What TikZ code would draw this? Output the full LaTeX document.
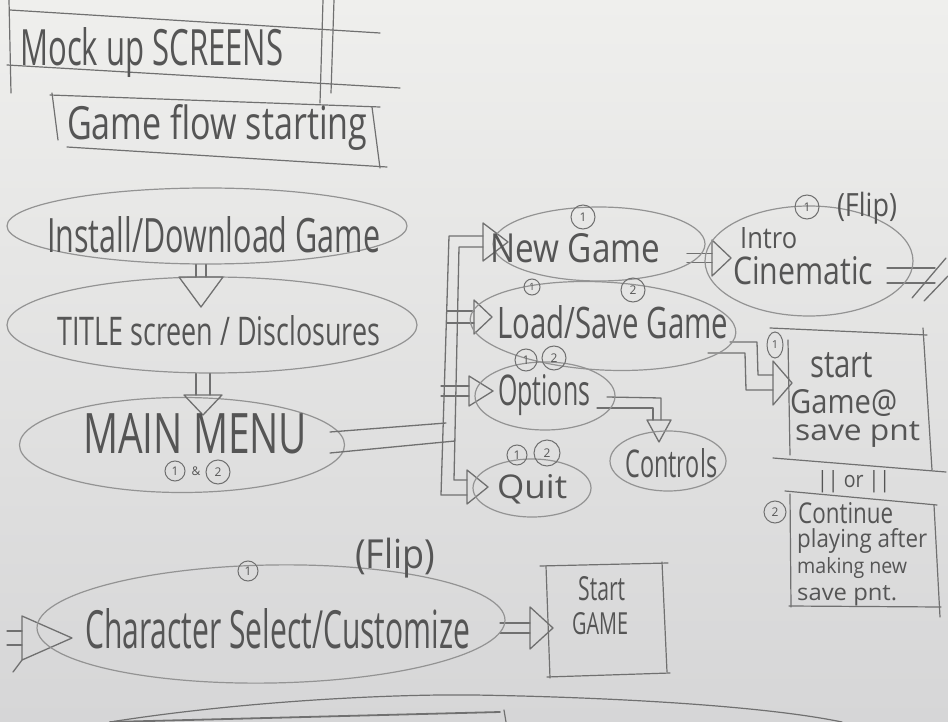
\documentclass[tikz,border=0pt]{standalone}
\usepackage{fontspec}
\setmainfont{Open Sans}
\usepackage{graphicx}
\usetikzlibrary{shapes.geometric,calc}
\definecolor{papertop}{HTML}{EFEFED}
\definecolor{paperbot}{HTML}{D6D6D7}
\definecolor{lead}{HTML}{939393}
\definecolor{ink}{HTML}{707070}
\definecolor{txt}{HTML}{555555}
\newcommand\hw[3]{\resizebox{#1pt}{#2pt}{#3}}
\newcommand\hwc[3]{\resizebox*{#1pt}{#2pt}{#3}}
\newcommand\htri[3]{\draw[rail] let \p1=(#1) in (#1) -- (\x1-#2,\y1+#3) -- (\x1-#2,\y1-#3) -- cycle;}
\newcommand\vtri[3]{\draw[rail] let \p1=(#1) in (#1) -- (\x1-#3,\y1+#2) -- (\x1+#3,\y1+#2) -- cycle;}
\newcommand\harr[5]{\draw[rail] let \p1=(#1), \p2=(#2) in (\x1,\y2+#3) -- (\x2-#4,\y2+#3) (\x1,\y2-#3) -- (\x2-#4,\y2-#3); \htri{#2}{#4}{#5}}
\newcommand\varr[5]{\draw[rail] let \p1=(#1), \p2=(#2) in (\x2-#3,\y1) -- (\x2-#3,\y2+#4) (\x2+#3,\y1) -- (\x2+#3,\y2+#4); \vtri{#2}{#4}{#5}}
\begin{document}
\begin{tikzpicture}[x=1pt,y=-1pt,
  oval/.style={ellipse, draw=lead, line width=1.2pt, inner sep=0pt},
  rail/.style={draw=ink, line width=1.3pt, line cap=round, line join=round},
  sketch/.style={draw=ink, line width=1.2pt, line cap=round},
  lbl/.style={text=txt, inner sep=0pt, anchor=base west},
  clbl/.style={text=txt, inner sep=0pt, anchor=center},
  circ/.style={circle, draw=ink, line width=1pt, inner sep=0pt, text=txt, font=\fontsize{12}{12}\selectfont},
  ghost/.style={rectangle, draw=none, inner sep=0pt}]
\useasboundingbox (0,0) rectangle (948,722);
\fill[top color=papertop, bottom color=paperbot] (0,0) rectangle (948,722);

% ---------- header frames ----------
\draw[sketch] (10,10) -- (380,33);
\draw[sketch] (7,65) -- (400,88);
\draw[sketch] (9,0) -- (11,93);
\draw[sketch] (323,0) -- (320,103);
\draw[sketch] (334,0) -- (331,93);
\node[lbl] (mock) at (20,66) {\hw{263}{38}{Mock up SCREENS}};
\draw[sketch] (50,95) -- (380,107);
\draw[sketch] (52,93) -- (58,140);
\draw[sketch] (372,107) -- (380,168);
\draw[sketch] (67,147) -- (387,167);
\node[lbl] (flow) at (67,140) {\hw{300}{35}{Game flow starting}};

% ---------- connectors (drawn first) ----------
\coordinate (t1) at (201,307);
\coordinate (t2) at (203,415);
\node[oval, minimum width=400, minimum height=76] (inst) at (207,226) {};
\node[oval, minimum width=410, minimum height=96] (title) at (212,325) {};
\node[oval, minimum width=325, minimum height=95] (mm) at (182,445) {};
\varr{inst.south}{t1}{5}{30}{22}
\varr{title.south}{t2}{7}{20}{19}

% main menu to bus
\coordinate (m1) at (330,432); \coordinate (m1e) at (446,423);
\coordinate (m2) at (330,453); \coordinate (m2e) at (455,441);
\draw[rail] (m1) -- (m1e);
\draw[rail] (m2) -- (m2e);
% bus
\coordinate (b1) at (483,236); \coordinate (b2) at (449,236);
\coordinate (b3) at (441,495); \coordinate (b4) at (467,495);
\coordinate (b5) at (483,247); \coordinate (b6) at (459,247);
\coordinate (b7) at (454,480); \coordinate (b8) at (467,480);
\draw[rail] (b1) -- (b2) -- (b3) -- (b4);
\draw[rail] (b5) -- (b6) -- (b7) -- (b8);
\coordinate (tng) at (508,242);
\coordinate (tqu) at (488,487);
\htri{tng}{25}{19}
\htri{tqu}{21}{17}
\coordinate (lsf) at (447,317); \coordinate (tls) at (492,317);
\harr{lsf}{tls}{6}{18}{17}
\coordinate (opf) at (441,391); \coordinate (top) at (493,391);
\harr{opf}{top}{5}{24}{15}

% new game -> intro
\coordinate (ngf) at (687,258); \coordinate (tic) at (731,258);
\harr{ngf}{tic}{4.5}{19}{18}
% intro -> off page
\coordinate (ic1) at (887,268); \coordinate (ic1e) at (935,268);
\coordinate (ic2) at (887,283); \coordinate (ic2e) at (935,283);
\draw[rail] (ic1) -- (ic1e);
\draw[rail] (ic2) -- (ic2e);
\draw[rail] (912,298) -- (946,258);
\draw[rail] (924,301) -- (948,276);

% load/save -> start game at save point
\coordinate (l1) at (730,342); \coordinate (l2) at (708,353);
\coordinate (tsg) at (792,383);
\draw[rail] (l1) -- (757,342) -- (758,375) -- (773,375);
\draw[rail] (l2) -- (745,353) -- (746,390) -- (773,390);
\htri{tsg}{19}{22}

% options -> controls
\coordinate (o1) at (607,397); \coordinate (o2) at (597,408);
\coordinate (tct) at (659,442);
\draw[rail] (o1) -- (661,398) -- (661,420);
\draw[rail] (o2) -- (653,408) -- (653,420);
\vtri{tct}{22}{12}

% into character select
\coordinate (csf) at (7,638); \coordinate (tcs) at (72,638);
\harr{csf}{tcs}{7}{50}{22}
\draw[rail] (22,660) -- (13,672);
% character select -> start game
\coordinate (csx) at (500,629); \coordinate (tsgm) at (553,628);
\harr{csx}{tsgm}{5}{23}{21}

% ---------- ellipses ----------
\node[oval, minimum width=212, minimum height=74] (ng) at (599,244) {};
\node[oval, minimum width=266, minimum height=88, rotate=-3] (ls) at (603,326) {};
\node[oval, minimum width=140, minimum height=68] (op) at (545,396) {};
\node[oval, minimum width=118, minimum height=58] (qu) at (532,488) {};
\node[oval, minimum width=116, minimum height=60] (ct) at (668,461) {};
\node[oval, minimum width=208, minimum height=110] (ic) at (809,261) {};
\node[oval, minimum width=468, minimum height=118, rotate=1] (cs) at (271,624) {};

% ---------- boxes ----------
\node[ghost, minimum width=137, minimum height=128] (sgs) at (858,398) {};
\draw[sketch] (770,328) -- (927,335);
\draw[sketch] (923,328) -- (932,470);
\draw[sketch] (788,340) -- (790,455);
\draw[sketch] (773,458) -- (946,472);
\node[ghost, minimum width=148, minimum height=112] (cont) at (864,552) {};
\draw[sketch] (785,491) -- (937,505);
\draw[sketch] (790,494) -- (791,607);
\draw[sketch] (934,505) -- (940,617);
\draw[sketch] (789,606) -- (941,607);
\node[ghost, minimum width=120, minimum height=112] (sg) at (607,620) {};
\draw[sketch] (540,566) -- (668,563);
\draw[sketch] (546,566) -- (550,678);
\draw[sketch] (662,562) -- (667,672);
\draw[sketch] (547,677) -- (670,673);

% ---------- texts ----------
\node[lbl] (instT) at (47,252) {\hw{333}{36}{Install/Download Game}};
\node[lbl] (titleT) at (57,345) {\hw{323}{30}{TITLE screen / Disclosures}};
\node[lbl] (mmT) at (83,453) {\hw{224}{40}{MAIN MENU}};
\node[circ, minimum size=20] (mmc1) at (175,471) {1};
\node[circ, minimum size=24] (mmc2) at (218,472) {2};
\node[clbl, font=\fontsize{12}{12}\selectfont] (mmamp) at (196,471) {\&};

\node[lbl] (ngT) at (490,262) {\hw{170}{29}{New Game}};
\node[circ, minimum size=24] (ngc) at (583,217) {1};
\node[lbl] (lsT) at (497,338) {\hw{231}{33}{Load/Save Game}};
\node[circ, minimum size=16, font=\fontsize{10}{10}\selectfont] (lsc1) at (532,287) {1};
\node[circ, minimum size=24] (lsc2) at (633,290) {2};
\node[lbl] (opT) at (498,405) {\hw{92}{31}{Options}};
\node[circ, minimum size=22] (opc1) at (526,360) {1};
\node[circ, minimum size=24] (opc2) at (554,358) {2};
\node[lbl] (quT) at (497,498) {\hw{70}{24}{Quit}};
\node[circ, minimum size=20] (quc1) at (517,455) {1};
\node[circ, minimum size=26] (quc2) at (547,453) {2};
\node[lbl] (ctT) at (625,477) {\hw{92}{29}{Controls}};

\node[lbl] (icT1) at (740,249) {\hw{57}{21}{Intro}};
\node[lbl] (icT2) at (733,284) {\hw{140}{28}{Cinematic}};
\node[circ, minimum size=24] (icc) at (807,207) {1};
\node[clbl] (icflip) at (867,208) {\hwc{60}{32}{(Flip)}};

\node[ellipse, draw=ink, line width=1pt, inner sep=0pt, minimum width=16, minimum height=26, text=txt, font=\fontsize{11}{11}\selectfont] (sgsc) at (775,345) {1};
\node[lbl] (sgsT1) at (810,377) {\hw{63}{25}{start}};
\node[lbl] (sgsT2) at (790,413) {\hw{107}{24}{Game@}};
\node[lbl] (sgsT3) at (795,440) {\hw{125}{19}{save pnt}};
\node[lbl] (orT) at (817,487) {\hw{73}{17}{|| or ||}};
\node[circ, minimum size=22] (contc) at (775,512) {2};
\node[lbl] (contT1) at (798,523) {\hw{95}{21}{Continue}};
\node[lbl] (contT2) at (797,547) {\hw{130}{19}{playing after}};
\node[lbl] (contT3) at (797,573) {\hw{110}{16}{making new}};
\node[lbl] (contT4) at (797,600) {\hw{100}{15}{save pnt.}};

\node[lbl] (csT) at (85,648) {\hw{385}{40}{Character Select/Customize}};
\node[circ, minimum size=20] (csc) at (248,571) {1};
\node[clbl] (csflip) at (395,558) {\hwc{80}{40}{(Flip)}};
\node[lbl] (sgT1) at (578,600) {\hw{47}{24}{Start}};
\node[lbl] (sgT2) at (572,634) {\hw{56}{22}{GAME}};

% ---------- bottom strokes ----------
\draw[sketch] (110,722) .. controls (250,700) and (400,694) .. (474,695) .. controls (600,697) and (760,705) .. (842,722);
\draw[sketch, line width=1.8pt] (110,722) -- (500,712);
\draw[sketch] (504,710) -- (506,722);
\end{tikzpicture}
\end{document}
